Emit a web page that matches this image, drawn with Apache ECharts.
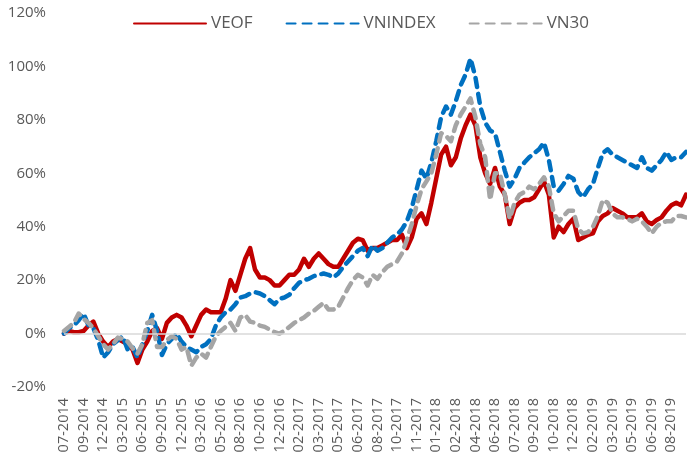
<!DOCTYPE html>
<html>
<head>
<meta charset="utf-8">
<script src="https://cdn.jsdelivr.net/npm/echarts@6/dist/echarts.min.js"></script>
<style>
  html, body { margin: 0; padding: 0; background: #fff; }
  #chart { width: 687px; height: 456px; }
</style>
</head>
<body>
<div id="chart"></div>
<script>
// tick labels, one every 4 points
var tickLabels = ['07-2014','09-2014','12-2014','03-2015','06-2015','09-2015','12-2015','03-2016',
  '05-2016','08-2016','10-2016','12-2016','02-2017','03-2017','05-2017','06-2017','08-2017','10-2017',
  '11-2017','01-2018','02-2018','04-2018','06-2018','07-2018','09-2018','10-2018','12-2018','02-2019',
  '03-2019','05-2019','06-2019','08-2019'];

// cumulative return, %
var veof = [0,1,0.5,0.5,1,3,4.5,0,-3,-5,-3,-2,-3,-4,-6,-11,-6,-3,1,2,-2,4,6,7,6,3,-1,3,7,9,8,8,
  8,13,20,16,22,28,32,24,21,21,20,18,18,20,22,22,24,28,25,28,30,28,26,25,25,28,31,34,35.5,35,31,32,
  32,33,34,35,35,37,32,36,43,45,41,49,58,67,70,63,66,73,78,82,78,66,60,56,62,55,52,41,47,49,50,50,
  51,54,57,52,36,40,38,41,43,35,36,37,37.5,42,44,45,47,46,45,43.5,43.5,43.5,45,42,41,42.5,43.5,46,48,49,48,52];

var vnindex = [0,2,3,5,7.5,3,2,-2.5,-9,-7,-4,-2.5,-1,-6,-5,-9,-4,1,7,1,-8,-4,-2,0,-3,-5,-6,-7,-5,-4,-2,3,
  6,8,9,11,13.5,14,15,15.5,15,14,12.5,11,13,13.5,14.5,17,19,20,20.5,21.5,22,22.5,22,21,22.5,25,27,29,31,32,29,33,
  31,32,34,36,37,39,42,47,54,61,58,64,72,81,85,82,87,93,97,103,96,85,79,76,75,68,61,55,58,62,64,66,
  67.5,69,71.5,65,55,53.5,56,59,58,53,51,54,56,62,67.5,69,67,66,65,64,63,62,66,62,61,63,65,68,65,66,66,68];

var vn30 = [1,2.5,4,7.5,5.5,4,2,-1,-4,-6,-4,-1.5,-2,-3,-5.5,-7.5,-4,4,5,-5,-5,-2.5,-1,-2,-6,-5,-12,-9,-7.5,-9,-5,-1,
  1,2.5,4,1,6,7,4.5,4,3,2.5,1.5,0.5,0,1,2.5,4,5,6,7.5,8.5,10,11.5,9,9,10,13.5,17,20,22,21,18,22,
  20.5,23,25,26,27,30,35,41,48,54,57,60,67,75,74,72,78,82,85,88,81,71,66,50,60,60,52,43,49,52,53,55,
  54,56,58.5,55,45,42,44,46,46,39,37.5,38,40,44,50,49,45,43.5,43.5,43,42,43,42,40,37.5,40,41.5,42,42,44,44,43.5];

var chart = echarts.init(document.getElementById('chart'));

function toPairs(arr) {
  return arr.map(function (v, i) { return [i, v]; });
}

var font = '"Open Sans", "Noto Sans", sans-serif';

var option = {
  animation: false,
  grid: { left: 64, right: 1, top: 13, bottom: 69 },
  legend: {
    left: 128,
    top: 10,
    itemWidth: 72,
    itemHeight: 14,
    itemGap: 33,
    itemStyle: { opacity: 0 },
    textStyle: { fontFamily: font, fontSize: 17, color: '#595959' },
    data: ['VEOF', 'VNINDEX', 'VN30']
  },
  xAxis: {
    type: 'value',
    min: 0,
    max: veof.length - 1,
    interval: 4,
    axisLine: { show: false },
    axisTick: { show: false },
    splitLine: { show: false },
    axisLabel: {
      rotate: 90,
      margin: 11,
      fontFamily: font,
      fontSize: 14.5,
      color: '#595959',
      showMaxLabel: false,
      formatter: function (v) {
        return v % 4 === 0 && tickLabels[v / 4] ? tickLabels[v / 4] : '';
      }
    }
  },
  yAxis: {
    type: 'value',
    min: -20,
    max: 120,
    interval: 20,
    axisLine: { show: false },
    axisTick: { show: false },
    splitLine: { show: false },
    axisLabel: {
      margin: 18,
      fontFamily: font,
      fontSize: 15,
      color: '#595959',
      formatter: '{value}%'
    }
  },
  series: [
    {
      name: 'VEOF',
      type: 'line',
      symbol: 'none',
      data: toPairs(veof),
      lineStyle: { color: '#C00000', width: 4.5, join: 'round', cap: 'round' },
      itemStyle: { color: '#C00000' },
      markLine: {
        silent: true,
        symbol: 'none',
        label: { show: false },
        lineStyle: { color: '#D9D9D9', width: 1.5, type: 'solid' },
        data: [{ yAxis: 0 }]
      },
      z: 2
    },
    {
      name: 'VNINDEX',
      type: 'line',
      symbol: 'none',
      data: toPairs(vnindex),
      lineStyle: { color: '#0070C0', width: 4.5, type: [9, 7], cap: 'round', join: 'round' },
      itemStyle: { color: '#0070C0' },
      z: 3
    },
    {
      name: 'VN30',
      type: 'line',
      symbol: 'none',
      data: toPairs(vn30),
      lineStyle: { color: '#A5A5A5', width: 4.5, type: [9, 7], cap: 'round', join: 'round' },
      itemStyle: { color: '#A5A5A5' },
      z: 4
    }
  ]
};

chart.setOption(option);
</script>
</body>
</html>
